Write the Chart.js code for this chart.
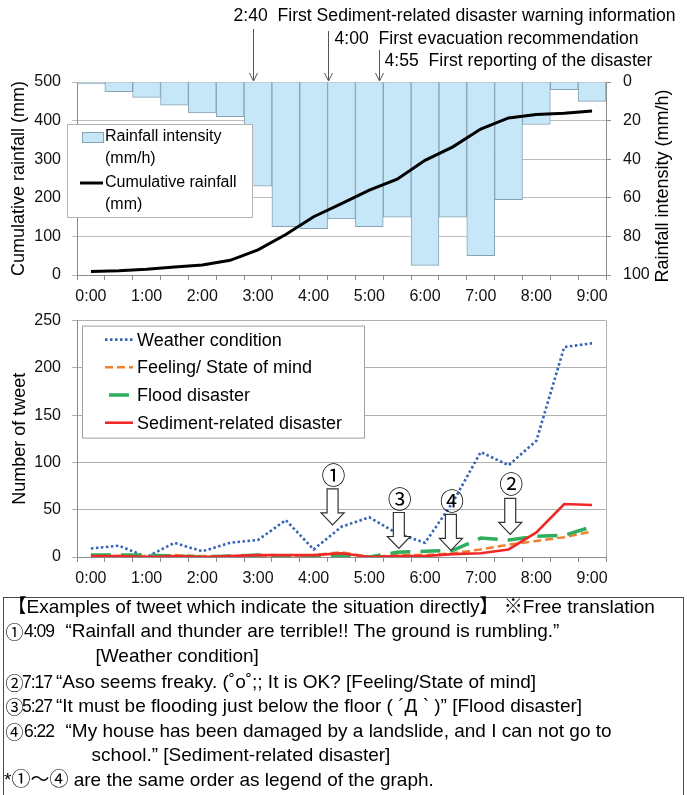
<!DOCTYPE html>
<html>
<head>
<meta charset="UTF-8">
<title>Rainfall and tweets</title>
<script src="https://cdn.jsdelivr.net/npm/chart.js@4.4.1/dist/chart.umd.min.js"></script>
<style>
body { margin: 0; background: #fff; }
#wrap { position: relative; width: 687px; height: 795px; overflow: hidden; font-family: 'Liberation Sans', 'Noto Sans CJK JP', sans-serif; }
#wrap canvas { position: absolute; left: 0; }
#rainChart { top: 0; }
#tweetChart { top: 300px; }
#note { position: absolute; left: 3px; top: 597px; width: 681px; height: 205px; border: 1.5px solid #4a4a4a; box-sizing: border-box; }
#note span { position: absolute; white-space: pre; font-size: 19px; line-height: 22px; color: #000; }
#note span.no { font-family: 'Noto Sans CJK JP', 'DejaVu Sans', sans-serif; font-size: 18px; }
#note span.tm { font-size: 17.5px; letter-spacing: -1px; }
</style>
</head>
<body>
<div id="wrap">
<canvas id="rainChart" width="687" height="305"></canvas>
<canvas id="tweetChart" width="687" height="295"></canvas>
<div id="note">
<span style="left:3.5px;top:-2px">【Examples of tweet which indicate the situation directly】 ※Free translation</span>
<span class="no" style="left:1.5px;top:22px">①</span><span class="tm" style="left:20px;top:22px">4:09</span><span style="left:61.5px;top:22px">“Rainfall and thunder are terrible!! The ground is rumbling.”</span>
<span style="left:91.5px;top:46.5px">[Weather condition]</span>
<span class="no" style="left:1.5px;top:73px">②</span><span class="tm" style="left:18px;top:73px">7:17</span><span style="left:52px;top:73px">“Aso seems freaky. (˚o˚;; It is OK? [Feeling/State of mind]</span>
<span class="no" style="left:1.5px;top:96.5px">③</span><span class="tm" style="left:18px;top:96.5px">5:27</span><span style="left:52px;top:96.5px">“It must be flooding just below the floor ( ´Д ` )” [Flood disaster]</span>
<span class="no" style="left:1.5px;top:121.5px">④</span><span class="tm" style="left:20px;top:121.5px">6:22</span><span style="left:61.5px;top:121.5px">“My house has been damaged by a landslide, and I can not go to</span>
<span style="left:87.5px;top:145.5px">school.” [Sediment-related disaster]</span>
<span style="left:0px;top:170.5px">*①～④ are the same order as legend of the graph.</span>
</div>
</div>
<script>
// half-hour categories
let timeLabels = ['0:00','0:30','1:00','1:30','2:00','2:30','3:00','3:30','4:00','4:30',
	'5:00','5:30','6:00','6:30','7:00','7:30','8:00','8:30','9:00'];

// rainfall
let rainIntensity = [1, 5, 8, 12, 16, 18, 54, 75, 76, 71, 75, 70, 95, 70, 90, 61, 22, 4, 10];
let rainCumulative = [9, 11, 15, 21, 26, 38, 65, 105, 151, 185, 220, 248, 297, 332, 378, 407, 416, 419, 425];

// tweets
let tweetWeather = [9, 12, 0, 15, 6, 15, 18, 39, 8, 32, 42, 25, 15, 58, 111, 97, 123, 222, 226];
let tweetFeeling = [2, 1, 1, 2, 1, 1, 1, 1, 2, 5, 0, 2, 2, 4, 8, 13, 17, 21, 27];
let tweetFlood = [2, 2, 2, 1, 0, 1, 2, 1, 1, 2, 0, 5, 6, 7, 20, 18, 22, 23, 32];
let tweetSediment = [1, 1, 0, 1, 0, 1, 2, 2, 2, 4, 0, 1, 1, 3, 4, 8, 26, 56, 55];

// events above the rainfall chart (minutes after 0:00)
let eventTimes = [160, 240, 295];
let eventTexts = [
	'2:40  First Sediment-related disaster warning information',
	'4:00  First evacuation recommendation',
	'4:55  First reporting of the disaster'
];

// tweet example markers (category position, value at arrow tip)
let tweetMarks = ['①', '③', '④', '②'];
let tweetMarkPos = [8.68, 11.06, 12.93, 15.06];
let tweetMarkTip = [34, 9, 7, 24];

const FONT = "'Liberation Sans', Arial, sans-serif";
Chart.defaults.font.family = FONT;
Chart.defaults.color = '#111';

function xAxisOptions(h) {
	return {
		offset: true,
		grid: { offset: true, drawOnChartArea: false, drawTicks: true, tickLength: 5, color: '#8c8c8c' },
		border: { color: '#8c8c8c' },
		ticks: {
			autoSkip: false, maxRotation: 0, padding: 7, font: { size: 16 },
			callback: function(v, i) {
				return i % 2 === 0 ? this.getLabelForValue(v) : '';
			}
		},
		afterFit: function(scale) { scale.height = h; }
	};
}

function drawArrowHead(c, x, y) {
	c.beginPath();
	c.moveTo(x - 4, y - 8);
	c.lineTo(x, y);
	c.lineTo(x + 4, y - 8);
	c.stroke();
}

let rainNotes = {
	id: 'rainNotes',
	afterDatasetsDraw: function(chart) {
		let c = chart.ctx;
		let a = chart.chartArea;
		let line = chart.data.datasets[0];
		let bar = chart.data.datasets[1];
		let lx = a.left - 10, ly = a.top + 42;
		c.save();
		// legend box
		c.fillStyle = '#fff';
		c.strokeStyle = '#b4b4b4';
		c.lineWidth = 1;
		c.fillRect(lx, ly, 185, 93);
		c.strokeRect(lx + 0.5, ly + 0.5, 185, 93);
		c.fillStyle = bar.backgroundColor;
		c.strokeStyle = bar.borderColor;
		c.fillRect(lx + 15, ly + 8, 21, 10);
		c.strokeRect(lx + 15.5, ly + 8.5, 21, 10);
		c.strokeStyle = line.borderColor;
		c.lineWidth = 3;
		c.beginPath();
		c.moveTo(lx + 13, ly + 59);
		c.lineTo(lx + 36, ly + 59);
		c.stroke();
		c.fillStyle = '#000';
		c.font = '16px ' + FONT;
		c.textBaseline = 'middle';
		c.textAlign = 'left';
		let barName = bar.label.split(' (');
		let lineName = line.label.split(' (');
		c.fillText(barName[0], lx + 38, ly + 13);
		c.fillText('(' + barName[1], lx + 38, ly + 35);
		c.fillText(lineName[0], lx + 38, ly + 59);
		c.fillText('(' + lineName[1], lx + 38, ly + 81);
		c.restore();
	},
	afterDraw: function(chart) {
		let c = chart.ctx;
		let a = chart.chartArea;
		let xs = chart.scales.x;
		let textY = [16, 39, 61];
		let arrowTop = [29, 31, 50];
		let textDx = [-20, 6, 5];
		c.save();
		c.strokeStyle = '#555';
		c.lineWidth = 1;
		c.fillStyle = '#000';
		c.font = '17.6px ' + FONT;
		c.textBaseline = 'middle';
		c.textAlign = 'left';
		for (let i = 0; i < eventTimes.length; i++) {
			let x = Math.round(xs.getPixelForValue(eventTimes[i] / 30 + 0.5)) + 0.5;
			c.beginPath();
			c.moveTo(x, arrowTop[i]);
			c.lineTo(x, a.top - 1);
			c.stroke();
			drawArrowHead(c, x, a.top - 1);
			c.fillText(eventTexts[i], x + textDx[i], textY[i]);
		}
		// right axis title, reading bottom to top
		c.font = '18px ' + FONT;
		c.translate(663, 186);
		c.rotate(-Math.PI / 2);
		c.textAlign = 'center';
		c.fillText(chart.options.scales.y1.title.text, 0, 0);
		c.restore();
	}
};

let tweetNotes = {
	id: 'tweetNotes',
	afterDatasetsDraw: function(chart) {
		let c = chart.ctx;
		let a = chart.chartArea;
		let xs = chart.scales.x, ys = chart.scales.y;
		c.save();
		// right frame
		c.strokeStyle = '#b0b0b0';
		c.lineWidth = 1;
		c.beginPath();
		c.moveTo(a.right + 0.5, a.top);
		c.lineTo(a.right + 0.5, a.bottom);
		c.stroke();

		// legend box
		let lx = a.left + 5, ly = a.top + 5;
		c.fillStyle = '#fff';
		c.strokeStyle = '#a0a0a0';
		c.fillRect(lx, ly, 282, 112);
		c.strokeRect(lx + 0.5, ly + 0.5, 282, 112);
		c.font = '18px ' + FONT;
		c.textBaseline = 'middle';
		c.textAlign = 'left';
		chart.data.datasets.forEach(function(ds, k) {
			let y = ly + 14 + 27.7 * k;
			c.strokeStyle = ds.borderColor;
			c.lineWidth = ds.borderWidth;
			c.setLineDash(ds.borderDash || []);
			c.lineDashOffset = k === 2 ? -4 : 0;
			c.beginPath();
			c.moveTo(lx + 23, y);
			c.lineTo(lx + 51, y);
			c.stroke();
			c.setLineDash([]);
			c.fillStyle = '#000';
			c.fillText(ds.label, lx + 55, y + 1);
		});

		// tweet example arrows
		c.lineWidth = 1.2;
		c.strokeStyle = '#333';
		c.font = "24px 'Noto Sans CJK JP', 'DejaVu Sans', sans-serif";
		c.textAlign = 'center';
		for (let i = 0; i < tweetMarks.length; i++) {
			let x = xs.getPixelForValue(tweetMarkPos[i]);
			let tip = ys.getPixelForValue(tweetMarkTip[i]);
			c.beginPath();
			c.moveTo(x - 5.5, tip - 36);
			c.lineTo(x + 5.5, tip - 36);
			c.lineTo(x + 5.5, tip - 12);
			c.lineTo(x + 11.5, tip - 12);
			c.lineTo(x, tip);
			c.lineTo(x - 11.5, tip - 12);
			c.lineTo(x - 5.5, tip - 12);
			c.closePath();
			c.fillStyle = '#fff';
			c.fill();
			c.stroke();
			c.fillStyle = '#000';
			c.fillText(tweetMarks[i], x + 1, tip - 50);
		}
		c.restore();
	}
};

function drawRainChart() {
	let ctx = document.getElementById('rainChart').getContext('2d');
	new Chart(ctx, {
		type: 'bar',
		data: {
			labels: timeLabels,
			datasets: [{
				type: 'line',
				label: 'Cumulative rainfall (mm)',
				data: rainCumulative,
				yAxisID: 'y',
				borderColor: '#000',
				borderWidth: 3,
				pointRadius: 0,
				tension: 0,
				order: 1
			}, {
				type: 'bar',
				label: 'Rainfall intensity (mm/h)',
				data: rainIntensity,
				yAxisID: 'y1',
				backgroundColor: '#c6e7f8',
				borderColor: '#86a2b3',
				borderWidth: 1,
				barPercentage: 1,
				categoryPercentage: 1,
				order: 2
			}]
		},
		options: {
			responsive: false,
			animation: false,
			devicePixelRatio: 1,
			layout: { padding: { top: 82, left: 0, right: 0, bottom: 0 } },
			plugins: { legend: { display: false }, tooltip: { enabled: false } },
			scales: {
				x: xAxisOptions(30),
				y: {
					position: 'left', min: 0, max: 500,
					ticks: { stepSize: 100, padding: 11, font: { size: 16 } },
					grid: { color: '#bdbdbd', tickLength: 5 },
					border: { color: '#8c8c8c' },
					title: { display: true, text: 'Cumulative rainfall (mm)', color: '#000', font: { size: 18 }, padding: { top: 8, bottom: 0 } },
					afterFit: function(scale) { scale.width = 77; }
				},
				y1: {
					position: 'right', reverse: true, min: 0, max: 100,
					ticks: { stepSize: 20, padding: 12, font: { size: 16 } },
					grid: { drawOnChartArea: false, tickLength: 5, color: '#8c8c8c' },
					border: { color: '#8c8c8c' },
					title: { display: false, text: 'Rainfall intensity (mm/h)' },
					afterFit: function(scale) { scale.width = 81; }
				}
			}
		},
		plugins: [rainNotes]
	});
}

function drawTweetChart() {
	let ctx = document.getElementById('tweetChart').getContext('2d');
	new Chart(ctx, {
		type: 'line',
		data: {
			labels: timeLabels,
			datasets: [{
				label: 'Weather condition',
				data: tweetWeather,
				borderColor: '#3464b4',
				borderWidth: 2.6,
				borderDash: [2.5, 2.5],
				pointRadius: 0,
				order: 4
			}, {
				label: 'Feeling/ State of mind',
				data: tweetFeeling,
				borderColor: '#f0812f',
				borderWidth: 2.5,
				borderDash: [8, 4],
				pointRadius: 0,
				order: 3
			}, {
				label: 'Flood disaster',
				data: tweetFlood,
				borderColor: '#2fae5c',
				borderWidth: 3.5,
				borderDash: [20, 10],
				pointRadius: 0,
				order: 2
			}, {
				label: 'Sediment-related disaster',
				data: tweetSediment,
				borderColor: '#f02828',
				borderWidth: 2.6,
				pointRadius: 0,
				order: 1
			}]
		},
		options: {
			responsive: false,
			animation: false,
			devicePixelRatio: 1,
			layout: { padding: { top: 17, left: 0, right: 81, bottom: 0 } },
			plugins: { legend: { display: false }, tooltip: { enabled: false } },
			scales: {
				x: xAxisOptions(38),
				y: {
					min: 0, max: 250,
					ticks: { stepSize: 50, padding: 11, font: { size: 16 } },
					grid: { color: '#b0b0b0', tickLength: 5 },
					border: { color: '#8c8c8c' },
					title: { display: true, text: 'Number of tweet', color: '#000', font: { size: 18 }, padding: { top: 9, bottom: 0 } },
					afterFit: function(scale) { scale.width = 77; }
				}
			}
		},
		plugins: [tweetNotes]
	});
}

drawRainChart();
drawTweetChart();
</script>
</body>
</html>
